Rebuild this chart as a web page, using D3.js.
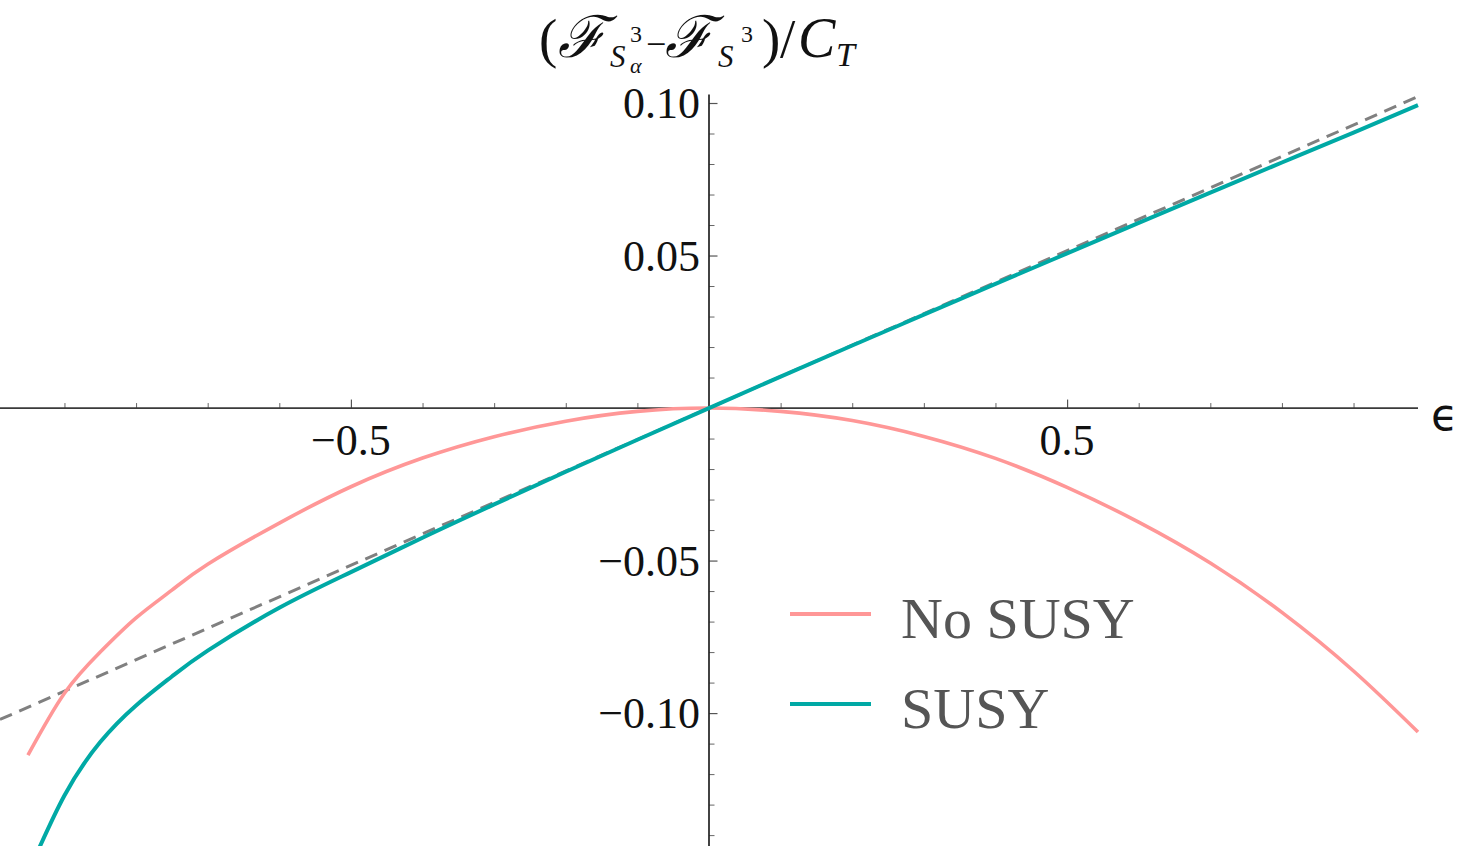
<!DOCTYPE html>
<html>
<head>
<meta charset="utf-8">
<script src="https://cdn.jsdelivr.net/npm/d3@7"></script>
<style>
  html, body { margin: 0; padding: 0; background: #fff; }
  svg { display: block; }
</style>
</head>
<body>
<svg id="chart" width="1459" height="846"></svg>
<script>
// ---------- data ----------
const noSusyEps = [-0.951, -0.9, -0.85, -0.8, -0.75, -0.7, -0.6, -0.5, -0.4, -0.3, -0.2, -0.1, 0,
                   0.1, 0.2, 0.3, 0.4, 0.5, 0.6, 0.7, 0.8, 0.9, 0.99];
const noSusyVals = [-0.1138, -0.0935, -0.0800, -0.0688, -0.0597, -0.0512, -0.0377, -0.0258, -0.0164, -0.0094, -0.0043, -0.0011, 0,
                    -0.0011, -0.0041, -0.0093, -0.0165, -0.0260, -0.0374, -0.0508, -0.0670, -0.0862, -0.1062];

const susyEps = [-0.95, -0.9, -0.85, -0.8, -0.75, -0.7, -0.6, -0.5, -0.4, -0.3, -0.2, -0.1, 0,
                 0.1, 0.2, 0.3, 0.4, 0.5, 0.6, 0.7, 0.8, 0.9, 0.99];
const susyVals = [-0.152, -0.127, -0.1095, -0.0975, -0.0880, -0.0795, -0.0655, -0.0538, -0.0425, -0.0316, -0.0209, -0.0104, 0,
                  0.0103, 0.0205, 0.0306, 0.0407, 0.0507, 0.0607, 0.0706, 0.0805, 0.0903, 0.0993];

const asymEps = [-0.99, 0.99];
const asymVals = [-0.1021, 0.1021];

const xMajorTicks = [-0.5, 0.5];
const xTickLabels = ["\u22120.5", "0.5"];
const xMinorTicks = [-0.9, -0.8, -0.7, -0.6, -0.4, -0.3, -0.2, -0.1, 0.1, 0.2, 0.3, 0.4, 0.6, 0.7, 0.8, 0.9];
const yMajorTicks = [-0.10, -0.05, 0.05, 0.10];
const yTickLabels = ["\u22120.10", "\u22120.05", "0.05", "0.10"];
const yMinorTicks = [-0.14, -0.13, -0.12, -0.11, -0.09, -0.08, -0.07, -0.06, -0.04, -0.03, -0.02, -0.01,
                     0.01, 0.02, 0.03, 0.04, 0.06, 0.07, 0.08, 0.09];
const legendLabels = ["No SUSY", "SUSY"];

// ---------- setup ----------
const W = 1459, H = 846;
const svg = d3.select("#chart");
const serif = "'Liberation Serif', 'DejaVu Serif', serif";
const pink = "#ff9797", teal = "#00a9a5", gray = "#808080";

const x = d3.scaleLinear().domain([-0.99, 0.99]).range([0, 1418]);
const y = d3.scaleLinear().domain([-0.14357, 0.10246]).range([846, 95.5]);

svg.append("defs").append("clipPath").attr("id", "plotclip")
  .append("rect").attr("x", 0).attr("y", 90).attr("width", 1420).attr("height", 756);

// ---------- axes ----------
const xAxisG = svg.append("g").attr("transform", `translate(0,${y(0)})`);
xAxisG.append("g")
  .call(d3.axisTop(x).tickValues(xMinorTicks).tickSize(5).tickFormat("").tickSizeOuter(0))
  .call(g => g.select(".domain").remove())
  .call(g => g.selectAll("line").attr("stroke", "#666").attr("stroke-width", 1));
xAxisG.append("g")
  .call(d3.axisTop(x).tickValues(xMajorTicks).tickSize(8.5).tickFormat("").tickSizeOuter(0))
  .call(g => g.select(".domain").remove())
  .call(g => g.selectAll("line").attr("stroke", "#555").attr("stroke-width", 1.2));
xAxisG.append("line").attr("x1", x(-0.99)).attr("x2", x(0.99)).attr("y1", 0).attr("y2", 0)
  .attr("stroke", "#3a3a3a").attr("stroke-width", 1.7);

const yAxisG = svg.append("g").attr("transform", `translate(${x(0)},0)`);
yAxisG.append("g")
  .call(d3.axisRight(y).tickValues(yMinorTicks).tickSize(5.5).tickFormat("").tickSizeOuter(0))
  .call(g => g.select(".domain").remove())
  .call(g => g.selectAll("line").attr("stroke", "#666").attr("stroke-width", 1));
yAxisG.append("g")
  .call(d3.axisRight(y).tickValues(yMajorTicks).tickSize(8.5).tickFormat("").tickSizeOuter(0))
  .call(g => g.select(".domain").remove())
  .call(g => g.selectAll("line").attr("stroke", "#555").attr("stroke-width", 1.2));
yAxisG.append("line").attr("x1", 0).attr("x2", 0).attr("y1", y(0.10246) - 1).attr("y2", H)
  .attr("stroke", "#222").attr("stroke-width", 1.7);

// tick labels
svg.append("g").selectAll("text").data(xMajorTicks).join("text")
  .attr("x", d => x(d)).attr("y", y(0) + 47)
  .attr("text-anchor", "middle")
  .attr("font-family", serif).attr("font-size", 44).attr("fill", "#111")
  .text((d, i) => xTickLabels[i]);

svg.append("g").selectAll("text").data(yMajorTicks).join("text")
  .attr("x", x(0) - 9).attr("y", d => y(d) + 15)
  .attr("text-anchor", "end")
  .attr("font-family", serif).attr("font-size", 44).attr("fill", "#111")
  .text((d, i) => yTickLabels[i]);

// epsilon label
svg.append("text").attr("x", 1431).attr("y", 430)
  .attr("font-family", "'DejaVu Sans', sans-serif").attr("font-size", 44).attr("fill", "#111")
  .text("\u03F5");

// ---------- title (one text element, positioned tspans) ----------
const titleParts = [
  { x: 539, y: 57, s: 55, t: "(" },
  { x: 558, y: 57, s: 58, t: "\u2131", i: true },
  { x: 610, y: 67, s: 31, t: "S", i: true },
  { x: 630, y: 42, s: 24, t: "3" },
  { x: 630, y: 73, s: 22, t: "\u03B1", i: true },
  { x: 646, y: 56, s: 36, t: "\u2212" },
  { x: 665, y: 57, s: 58, t: "\u2131", i: true },
  { x: 718, y: 67, s: 31, t: "S", i: true },
  { x: 741, y: 42, s: 24, t: "3" },
  { x: 762, y: 57, s: 55, t: ")" },
  { x: 780, y: 57, s: 55, t: "/" },
  { x: 798, y: 57, s: 56, t: "C", i: true },
  { x: 836, y: 66, s: 34, t: "T", i: true }
];
const title = svg.append("text").attr("font-family", serif).attr("fill", "#111");
titleParts.forEach(p => {
  title.append("tspan").attr("x", p.x).attr("y", p.y).attr("font-size", p.s)
    .attr("font-style", p.i ? "italic" : "normal").text(p.t);
});

// ---------- curves ----------
const line = d3.line().x(d => x(d[0])).y(d => y(d[1])).curve(d3.curveNatural);
const plot = svg.append("g").attr("clip-path", "url(#plotclip)");

plot.append("path")
  .datum(asymEps.map((e, i) => [e, asymVals[i]]))
  .attr("d", line).attr("fill", "none")
  .attr("stroke", gray).attr("stroke-width", 3).attr("stroke-dasharray", "13,8");

plot.append("path")
  .datum(noSusyEps.map((e, i) => [e, noSusyVals[i]]))
  .attr("d", line).attr("fill", "none")
  .attr("stroke", pink).attr("stroke-width", 3.6);

plot.append("path")
  .datum(susyEps.map((e, i) => [e, susyVals[i]]))
  .attr("d", line).attr("fill", "none")
  .attr("stroke", teal).attr("stroke-width", 4);

// ---------- legend ----------
const legColors = [pink, teal];
const leg = svg.append("g");
legendLabels.forEach((lab, i) => {
  const ly = 614 + i * 90;
  leg.append("line").attr("x1", 790).attr("x2", 871).attr("y1", ly).attr("y2", ly)
    .attr("stroke", legColors[i]).attr("stroke-width", 4);
  leg.append("text").attr("x", 901).attr("y", ly + 24)
    .attr("font-family", serif).attr("font-size", 58).attr("fill", "#555")
    .text(lab);
});
</script>
</body>
</html>
